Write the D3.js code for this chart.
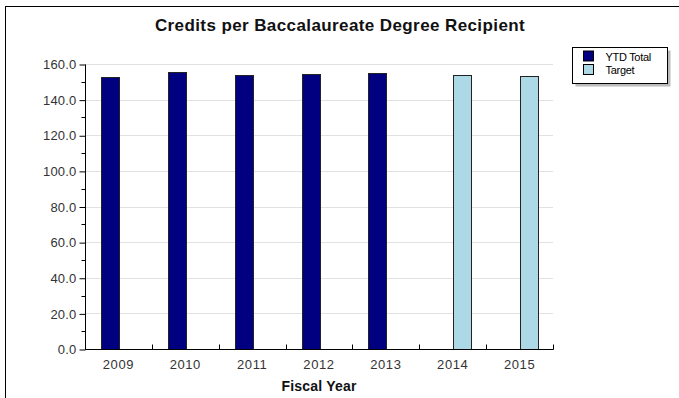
<!DOCTYPE html>
<html>
<head>
<meta charset="utf-8">
<script src="https://cdn.jsdelivr.net/npm/d3@7"></script>
<style>
body { margin: 0; background: #fff; }
svg { display: block; font-family: "Liberation Sans", Arial, sans-serif; }
</style>
</head>
<body>
<script>
// chart data
var years = ["2009", "2010", "2011", "2012", "2013", "2014", "2015"];
var ytdTotal = [152.6, 155.6, 153.9, 154.4, 155.2, null, null];
var target = [null, null, null, null, null, 153.9, 153.2];
var seriesNames = ["YTD Total", "Target"];
var seriesColors = ["#000080", "#add8e6"];
var yTicks = [0, 20, 40, 60, 80, 100, 120, 140, 160];

var width = 679, height = 398;
var plotLeft = 85, plotRight = 553, plotTop = 64, plotBottom = 349;

var svg = d3.select("body").append("svg")
    .attr("width", width)
    .attr("height", height);

// outer frame (cut off at right and bottom)
svg.append("rect")
    .attr("x", 5.5).attr("y", 6.5)
    .attr("width", 700).attr("height", 420)
    .attr("fill", "none").attr("stroke", "#000").attr("stroke-width", 1);

svg.append("text")
    .attr("x", 340).attr("y", 31)
    .attr("text-anchor", "middle")
    .attr("font-size", 17).attr("font-weight", "bold")
    .attr("letter-spacing", 0.4)
    .attr("fill", "#111")
    .text("Credits per Baccalaureate Degree Recipient");

var x0 = d3.scaleBand().domain(years).range([plotLeft, plotRight]);
var bw = x0.bandwidth();
var x1 = d3.scaleBand().domain(seriesNames).range([bw / 2 - 17.5, bw / 2 + 18.5]);
var y = d3.scaleLinear().domain([0, 160]).range([plotBottom, plotTop]);

// gridlines
svg.append("g").selectAll("line")
    .data(yTicks.slice(1))
    .enter().append("line")
    .attr("x1", plotLeft).attr("x2", plotRight)
    .attr("y1", function(d){ return Math.round(y(d)) + 0.5; })
    .attr("y2", function(d){ return Math.round(y(d)) + 0.5; })
    .attr("stroke", "#e2e2e2");

// bars
var series = [ytdTotal, target];
series.forEach(function(vals, si){
    var data = years.map(function(yr, i){ return {year: yr, v: vals[i]}; })
        .filter(function(d){ return d.v != null; });
    svg.append("g").selectAll("rect")
        .data(data)
        .enter().append("rect")
        .attr("x", function(d){ return Math.round(x0(d.year) + x1(seriesNames[si])) + 0.5; })
        .attr("y", function(d){ return Math.round(y(d.v)) + 0.5; })
        .attr("width", Math.round(x1.bandwidth()))
        .attr("height", function(d){ return Math.round(y(0)) - Math.round(y(d.v)); })
        .attr("fill", seriesColors[si])
        .attr("stroke", "#222").attr("stroke-width", 1);
});

// y axis
var yAxis = svg.append("g")
    .attr("transform", "translate(" + (plotLeft + 0.5) + ",0.5)")
    .call(d3.axisLeft(y).tickValues(yTicks).tickFormat(d3.format(".1f")).tickSize(6).tickPadding(3));
yAxis.select(".domain").attr("stroke", "#000").attr("d", "M0," + plotTop + "V" + plotBottom);
yAxis.selectAll(".tick text").attr("font-size", 13).attr("fill", "#333")
    .attr("letter-spacing", 0.2).attr("font-family", "Liberation Sans, Arial, sans-serif");
yAxis.selectAll(".tick line").attr("stroke", "#000");
// minor ticks
yAxis.append("g").selectAll("line")
    .data(d3.range(10, 160, 20))
    .enter().append("line")
    .attr("x1", -4).attr("x2", 0)
    .attr("y1", function(d){ return Math.round(y(d)); })
    .attr("y2", function(d){ return Math.round(y(d)); })
    .attr("stroke", "#000");

// x axis
var xAxis = svg.append("g")
    .attr("transform", "translate(0," + (plotBottom + 0.5) + ")")
    .call(d3.axisBottom(x0).tickSize(0).tickPadding(10));
xAxis.select(".domain").attr("stroke", "#000").attr("d", "M" + plotLeft + ",0H" + (plotRight + 0.5));
xAxis.selectAll(".tick text").attr("font-size", 13).attr("fill", "#333")
    .attr("letter-spacing", 0.6).attr("font-family", "Liberation Sans, Arial, sans-serif");
xAxis.append("g").selectAll("line")
    .data(years)
    .enter().append("line")
    .attr("x1", function(d){ return Math.round(x0(d) + bw) + 0.5; })
    .attr("x2", function(d){ return Math.round(x0(d) + bw) + 0.5; })
    .attr("y1", 0).attr("y2", -5)
    .attr("stroke", "#000");

svg.append("text")
    .attr("x", (plotLeft + plotRight) / 2).attr("y", 391)
    .attr("text-anchor", "middle")
    .attr("font-size", 14).attr("font-weight", "bold")
    .attr("letter-spacing", 0.2)
    .attr("fill", "#111")
    .text("Fiscal Year");

// legend
var lg = svg.append("g").attr("transform", "translate(572.5,47.5)");
lg.append("rect").attr("x", 3).attr("y", 3).attr("width", 95).attr("height", 36).attr("fill", "#bbb").attr("stroke", "none");
lg.append("rect").attr("x", 0).attr("y", 0).attr("width", 95).attr("height", 36).attr("fill", "#fff").attr("stroke", "#000");
seriesNames.forEach(function(name, i){
    lg.append("rect")
        .attr("x", 11).attr("y", 3.5 + i * 13.5)
        .attr("width", 10).attr("height", 10)
        .attr("fill", seriesColors[i]).attr("stroke", "#000");
    lg.append("text")
        .attr("x", 33).attr("y", 13 + i * 13)
        .attr("font-size", 11).attr("fill", "#000")
        .attr("letter-spacing", -0.3)
        .text(name);
});
</script>
</body>
</html>
